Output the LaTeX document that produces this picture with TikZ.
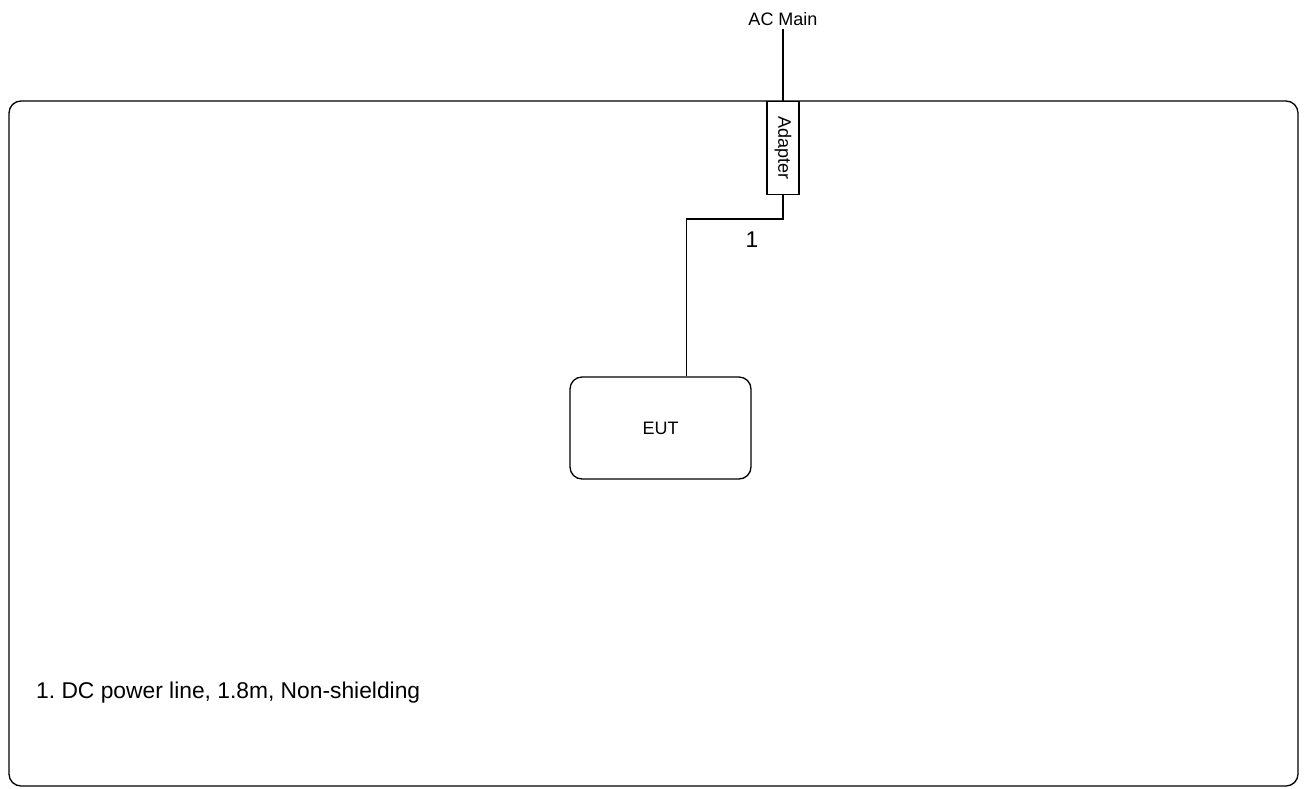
\documentclass[tikz,border=0pt]{standalone}
\usepackage{fontspec}
\setmainfont{Liberation Sans}
\usepackage{tikz}
\usetikzlibrary{calc}
\usetikzlibrary{positioning}
\frenchspacing

\begin{document}
\begin{tikzpicture}[x=1pt,y=-1pt,
    trait/.style={line width=1.3pt},
    petit/.style={font=\fontsize{18}{21}\selectfont},
    grand/.style={font=\fontsize{22.8}{26}\selectfont}]

%%%%%%%%%%%%%%%%%%%%%%
%%%	 Def géométrie  %%%
%%%%%%%%%%%%%%%%%%%%%%

\def \cadregauche{9}
\def \cadredroit{1298}
\def \cadrehaut{101}
\def \cadrebas{786}
\def \rayon{12}

\useasboundingbox (0,0) rectangle (1306,788);

%%%%%%%%%%%%%%%%%%%%%%
%%%	    Dessin      %%%
%%%%%%%%%%%%%%%%%%%%%%

% Cadre de la table
\draw[trait, rounded corners=\rayon] (\cadregauche,\cadrehaut) rectangle (\cadredroit,\cadrebas);

% Secteur et adaptateur
\node[petit, anchor=base, inner sep=4pt] (secteur) at (783,25) {AC Main};
\node[trait, draw, fill=white, anchor=north, minimum width=32pt, minimum height=93pt, inner sep=0pt] (adaptateur) at (783,\cadrehaut) {\rotatebox{-90}{\fontsize{18}{21}\selectfont Adapter}};
\draw[trait] (secteur.south) -- (adaptateur.north);

% Appareil sous test
\node[trait, draw, rounded corners=\rayon, minimum width=181pt, minimum height=102pt, petit] (eut) at (660.5,428) {EUT};

% Câble 1
\coordinate (coude) at (686.5,219);
\draw[trait] (adaptateur.south) |- (coude) -- (coude |- eut.north);
\node[grand] (numero) at (752,240) {1};

% Légende
\node[grand, anchor=west, inner sep=0pt] (legende) at (36,693) {1. DC power line, 1.8m, Non-shielding};

\end{tikzpicture}
\end{document}
